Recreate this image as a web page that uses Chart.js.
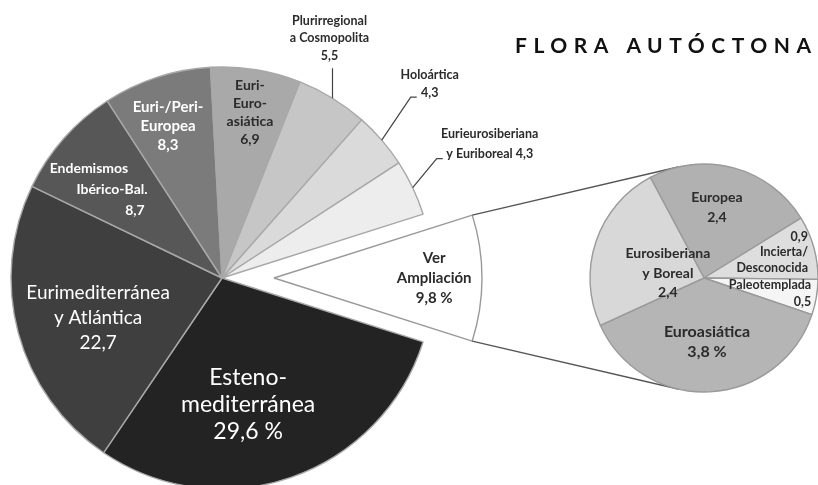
<!DOCTYPE html>
<html>
<head>
<meta charset="utf-8">
<title>Flora autóctona</title>
<script src="https://cdn.jsdelivr.net/npm/chart.js@4.4.1/dist/chart.umd.min.js"></script>
<style>
  html, body { margin: 0; padding: 0; background: #fff; }
  #wrap { position: relative; width: 818px; height: 485px; overflow: hidden; }
  #wrap canvas { position: absolute; left: 0; top: 0; }
</style>
</head>
<body>
<div id="wrap">
  <canvas id="main-chart" width="818" height="485"></canvas>
  <canvas id="detail-chart" width="818" height="485"></canvas>
</div>
<script>
// Data
const chartTitle = 'FLORA AUTÓCTONA';

const mainCategories = [
  ['Ver', 'Ampliación'],
  ['Esteno-', 'mediterránea'],
  ['Eurimediterránea', 'y Atlántica'],
  ['Endemismos', 'Ibérico-Bal.'],
  ['Euri-/Peri-', 'Europea'],
  ['Euri-', 'Euro-', 'asiática'],
  ['Plurirregional', 'a Cosmopolita'],
  ['Holoártica'],
  ['Eurieurosiberiana', 'y Euriboreal']
];
const mainValues = [9.8, 29.6, 22.7, 8.7, 8.3, 6.9, 5.5, 4.3, 4.3];

const detailCategories = [
  ['Europea'],
  ['Incierta/', 'Desconocida'],
  ['Paleotemplada'],
  ['Euroasiática'],
  ['Eurosiberiana', 'y Boreal']
];
const detailValues = [2.4, 0.9, 0.5, 3.8, 2.4];

// Styles
const mainColors = ['#ffffff', '#232323', '#3f3f3f', '#575757', '#7b7b7b', '#a9a9a9', '#c6c6c6', '#dadada', '#ededed'];
const mainBorders = ['#999999', '#a8a8a8', '#a8a8a8', '#a8a8a8', '#a8a8a8', '#a8a8a8', '#a8a8a8', '#a8a8a8', '#a8a8a8'];
const detailColors = ['#b1b1b1', '#dedede', '#f5f5f5', '#b5b5b5', '#d8d8d8'];

const DARK = '#2b2b2b';
const mainLabelStyle = [
  { frac: 0.77, da: 0, size: 15, bold: true, lh: 20, color: DARK, pct: true },
  { frac: 0.614, da: 7.5, size: 23, bold: false, lh: 27, color: '#fff', pct: true },
  { frac: 0.617, da: -2.8, size: 19, bold: false, lh: 25, color: '#fff' },
  { frac: 0.668, da: -2.7, size: 14, bold: true, lh: 21, color: '#fff', shift: 23 },
  { frac: 0.764, da: -1.5, size: 15, bold: true, lh: 19, color: '#fff' },
  { frac: 0.796, da: 0.3, size: 14, bold: true, lh: 18, color: DARK },
  { callout: [[0, -30]], tx: -3, ty: -30, size: 12.5, bold: true, lh: 17.5, color: DARK },
  { callout: [[29, -43], [6, 0]], tx: 13, ty: -13, size: 12.5, bold: true, lh: 18, color: DARK },
  { callout: [[24, -29], [6, 0]], tx: 47, ty: -15, size: 12.5, bold: true, lh: 20, color: DARK, valuePos: 'inline' }
];
const detailLabelStyle = [
  { frac: 0.625, da: -4.6, size: 14, bold: true, lh: 20, color: DARK },
  { frac: 0.94, da: 1.5, size: 12.5, bold: true, lh: 15.5, color: DARK, align: 'right', valuePos: 'above' },
  { frac: 0.95, da: -1.5, size: 12.5, bold: true, lh: 17, color: DARK, align: 'right' },
  { frac: 0.56, da: 0.2, size: 16, bold: true, lh: 20, color: DARK, pct: true },
  { frac: 0.32, da: -10.8, size: 14, bold: true, lh: 19.5, color: DARK }
];

const FONT = 'Lato, "Open Sans", sans-serif';
Chart.defaults.font.family = FONT;

function fmt(v) {
  return v.toFixed(1).replace('.', ',');
}

function labelLines(cat, value, st) {
  const val = fmt(value) + (st.pct ? ' %' : '');
  const lines = cat.slice();
  if (st.valuePos === 'inline') lines[lines.length - 1] += ' ' + val;
  else if (st.valuePos === 'above') lines.unshift(val);
  else lines.push(val);
  return lines;
}

// Draws the text of each slice, inside it or with a leader line
function makeLabelPlugin(styles) {
  return {
    id: 'sliceLabels',
    afterDatasetsDraw(chart) {
      const ctx = chart.ctx;
      const arcs = chart.getDatasetMeta(0).data;
      const values = chart.data.datasets[0].data;
      const cats = chart.data.labels;
      ctx.save();
      arcs.forEach((arc, i) => {
        const st = styles[i];
        const mid = (arc.startAngle + arc.endAngle) / 2;
        let x, y;
        if (st.callout) {
          x = arc.x + Math.cos(mid) * arc.outerRadius;
          y = arc.y + Math.sin(mid) * arc.outerRadius;
          ctx.beginPath();
          ctx.moveTo(x, y);
          st.callout.forEach(([dx, dy]) => {
            x += dx;
            y += dy;
            ctx.lineTo(x, y);
          });
          ctx.strokeStyle = '#444';
          ctx.lineWidth = 1.2;
          ctx.stroke();
          x += st.tx;
          y += st.ty;
        } else {
          const a = mid + st.da * Math.PI / 180;
          x = arc.x + Math.cos(a) * arc.outerRadius * st.frac;
          y = arc.y + Math.sin(a) * arc.outerRadius * st.frac;
        }
        const lines = labelLines(cats[i], values[i], st);
        ctx.font = (st.bold ? 'bold ' : '') + st.size + 'px ' + FONT;
        ctx.fillStyle = st.color;
        ctx.textAlign = st.align || 'center';
        ctx.textBaseline = 'middle';
        const n = lines.length;
        lines.forEach((t, k) => {
          const off = k - (n - 1) / 2;
          ctx.fillText(t, x + off * (st.shift || 0), y + off * st.lh);
        });
      });
      ctx.restore();
    }
  };
}

// Pulls the first slice out of the main pie
const EXPLODE = 52;
const EXPLODED_RADIUS = 208;
const explodePlugin = {
  id: 'explode',
  afterDatasetsUpdate(chart) {
    const arc = chart.getDatasetMeta(0).data[0];
    const mid = (arc.startAngle + arc.endAngle) / 2;
    arc.x += Math.cos(mid) * EXPLODE;
    arc.y += Math.sin(mid) * EXPLODE;
    arc.outerRadius = EXPLODED_RADIUS;
  }
};

const mainChart = new Chart(document.getElementById('main-chart'), {
  type: 'pie',
  data: {
    labels: mainCategories,
    datasets: [{
      data: mainValues,
      backgroundColor: mainColors,
      borderColor: mainBorders,
      borderWidth: 1.4
    }]
  },
  options: {
    responsive: false,
    animation: false,
    events: [],
    rotation: 72.4,
    radius: 211,
    layout: { padding: { left: 0, right: 374, top: 71, bottom: 0 } },
    plugins: {
      legend: { display: false },
      tooltip: { enabled: false }
    }
  },
  plugins: [explodePlugin, makeLabelPlugin(mainLabelStyle)]
});

// Lines from the pulled-out slice to the detail pie, and the title
const connectors = {
  id: 'connectors',
  beforeDatasetsDraw(chart) {
    const ctx = chart.ctx;
    const src = mainChart.getDatasetMeta(0).data[0];
    const dst = chart.getDatasetMeta(0).data[0];
    const r = dst.outerRadius;
    ctx.save();
    ctx.beginPath();
    [[src.startAngle, 1], [src.endAngle, -1]].forEach(([a, side]) => {
      const px = src.x + Math.cos(a) * src.outerRadius;
      const py = src.y + Math.sin(a) * src.outerRadius;
      const d = Math.hypot(px - dst.x, py - dst.y);
      const t = Math.atan2(py - dst.y, px - dst.x) + side * Math.acos(r / d);
      ctx.moveTo(px, py);
      ctx.lineTo(dst.x + Math.cos(t) * r, dst.y + Math.sin(t) * r);
    });
    ctx.strokeStyle = '#555';
    ctx.lineWidth = 1.4;
    ctx.stroke();
    ctx.restore();
  },
  afterDraw(chart) {
    const ctx = chart.ctx;
    ctx.save();
    ctx.font = 'bold 21px ' + FONT;
    ctx.letterSpacing = '6.5px';
    ctx.fillStyle = '#111';
    ctx.textAlign = 'left';
    ctx.textBaseline = 'middle';
    ctx.fillText(chartTitle, 515, 46);
    ctx.restore();
  }
};

const detailChart = new Chart(document.getElementById('detail-chart'), {
  type: 'pie',
  data: {
    labels: detailCategories,
    datasets: [{
      data: detailValues,
      backgroundColor: detailColors,
      borderColor: '#9a9a9a',
      borderWidth: 1.4
    }]
  },
  options: {
    responsive: false,
    animation: false,
    events: [],
    rotation: 331.9,
    radius: 114,
    layout: { padding: { left: 590, right: 0, top: 71, bottom: 0 } },
    plugins: {
      legend: { display: false },
      tooltip: { enabled: false }
    }
  },
  plugins: [connectors, makeLabelPlugin(detailLabelStyle)]
});
</script>
</body>
</html>
